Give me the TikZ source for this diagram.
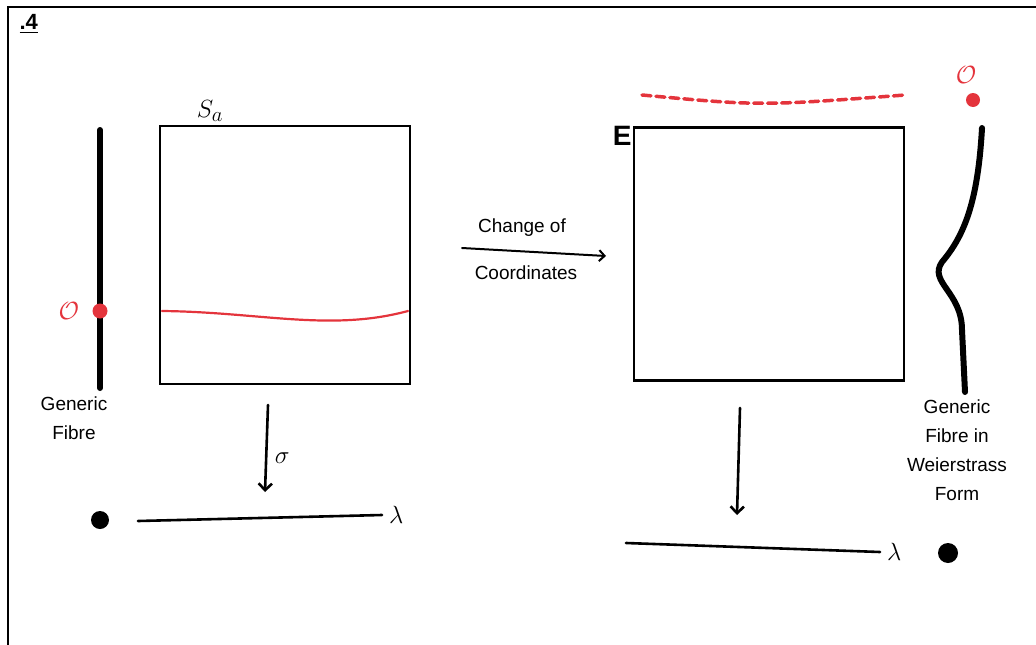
\documentclass[tikz,border=0pt]{standalone}
\usepackage{amsmath}
\usepackage{amssymb}
\usepackage{xcolor}
\usepackage{fontspec}
\setmainfont{Liberation Sans}
\usetikzlibrary{positioning, arrows.meta, arrows}

\definecolor{sketchred}{RGB}{228,52,60}

\begin{document}
\begin{tikzpicture}[x=1pt,y=-1pt,>=Straight Barb,line cap=round,
    ink/.style={line width=2.6pt},
    fibre/.style={line width=6pt},
    surface/.style={draw,ink,minimum width=#1,inner sep=0pt},
    marker/.style={circle,fill,inner sep=0pt,minimum size=#1},
    hand/.style={font=\fontsize{19}{29}\selectfont,align=center},
    sym/.style={font=\fontsize{30}{30}\selectfont,inner sep=1pt}]
    \useasboundingbox (0,0) rectangle (1036,645);
    \draw[line width=1.5pt] (8,645) -- (8,7) -- (1036,7);
    \node[hand,anchor=west,font=\fontsize{22}{22}\bfseries] (num) at (16,24) {\underline{.4}};

    % left surface and its fibre
    \node[surface=250pt,minimum height=258pt] (Sa) at (285,255) {};
    \node[sym] (Salab) at (210,111) {$S_a$};
    \draw[sketchred,line width=2.2pt] (162,311) .. controls (260,312) and (330,332) .. (408,311);
    \coordinate (fibA) at (100,130);
    \coordinate (fibB) at (100,388);
    \draw[fibre] (fibA) -- (fibB);
    \node[marker=15pt,sketchred] (ptL) at (100,311) {};
    \node[sym,sketchred] (OL) [left=12pt of ptL] {$\mathcal{O}$};
    \node[hand] (genL) at (74,418) {Generic\\Fibre};

    % left base
    \coordinate (sigA) at (268,405);
    \coordinate (sigB) at (265,492);
    \draw[->,ink] (sigA) -- node[right=6pt,sym,yshift=-10pt] {$\sigma$} (sigB);
    \node[marker=18pt] (dotL) at (100,520) {};
    \coordinate (baseLA) at (138,521);
    \coordinate (baseLB) at (382,515);
    \draw[ink] (baseLA) -- (baseLB);
    \node[sym] (lamL) [right=6pt of baseLB] {$\lambda$};

    % change of coordinates
    \coordinate (chA) at (462,248);
    \coordinate (chB) at (606,256);
    \draw[->,line width=2pt] (chA) -- (chB);
    \node[hand] (chg) at (522,228) {Change of};
    \node[hand] (crd) at (526,273) {Coordinates};

    % right surface and its fibre
    \node[surface=270pt,minimum height=253pt] (E) at (769,254) {};
    \node[sym,font=\fontsize{28}{28}\bfseries] (Elab) [left=0pt of E.north west,yshift=-10pt] {E};
    \draw[sketchred,line width=3.5pt,dash pattern=on 9pt off 5pt] (642,95) .. controls (760,106) .. (905,95);
    \node[marker=14pt,sketchred] (ptR) at (973,100) {};
    \node[sym,sketchred] (OR) at (966,75) {$\mathcal{O}$};
    \draw[fibre] (982,128) .. controls (978,200) and (965,235) .. (942,262)
        .. controls (928,282) and (962,292) .. (962,330) -- (965,392);
    \node[hand] (genR) at (957,450) {Generic\\Fibre in\\Weierstrass\\Form};

    % right base
    \coordinate (prA) at (740,408);
    \coordinate (prB) at (737,515);
    \draw[->,ink] (prA) -- (prB);
    \coordinate (baseRA) at (626,543);
    \coordinate (baseRB) at (880,552);
    \draw[ink] (baseRA) -- (baseRB);
    \node[sym] (lamR) [right=6pt of baseRB] {$\lambda$};
    \node[marker=20pt] (dotR) at (948,553) {};
\end{tikzpicture}
\end{document}
